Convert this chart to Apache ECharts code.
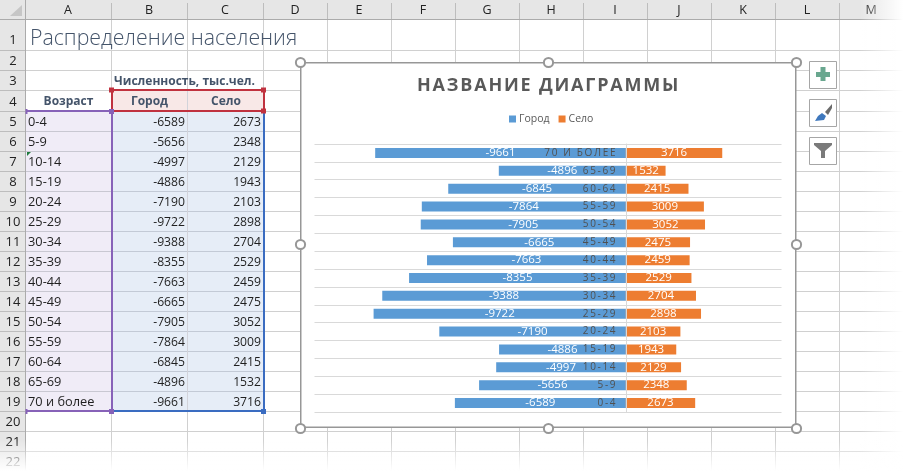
<!DOCTYPE html>
<html><head><meta charset="utf-8">
<style>html,body{margin:0;padding:0;background:#fff}#c{width:903px;height:471px}</style>
<script src="https://cdn.jsdelivr.net/npm/echarts@6/dist/echarts.min.js"></script>
</head><body><div id="c"></div>
<script>
const ages = ['0-4','5-9','10-14','15-19','20-24','25-29','30-34','35-39','40-44','45-49','50-54','55-59','60-64','65-69','70 и более'];
const gorod = [-6589,-5656,-4997,-4886,-7190,-9722,-9388,-8355,-7663,-6665,-7905,-7864,-6845,-4896,-9661];
const selo = [2673,2348,2129,1943,2103,2898,2704,2529,2459,2475,3052,3009,2415,1532,3716];
const colLetters = ['A','B','C','D','E','F','G','H','I','J','K','L','M'];
const colEdges = [25,111,187,263,327,391,455,519,583,647,711,775,839,903];
const sheetTitle = 'Распределение населения';
const groupHeader = 'Численность, тыс.чел.';
const headAge = 'Возраст', headCity = 'Город', headVillage = 'Село';
const chartTitle = 'НАЗВАНИЕ ДИАГРАММЫ';

const FONT = '"Open Sans", "Noto Sans", sans-serif';
const spaced = (s, sep) => s.split('').join(sep);
const rowBottom = n => n <= 3 ? [50,70,90][n-1] : 111 + 20*(n-4);
const els = [];
const rect = (x,y,w,h,fill,z) => els.push({type:'rect',silent:true,z:z,shape:{x,y,width:w,height:h},style:{fill}});
const text = (t,x,y,o) => els.push({type:'text',silent:true,z:o.z===undefined?-1:o.z,x,y,style:{text:t,fill:o.fill||'#1f1f1f',font:(o.weight||'normal')+' '+(o.size||12)+'px '+(o.font||FONT),textAlign:o.align||'left',textVerticalAlign:'middle'}});

rect(0,0,903,19,'#e6e6e6',-5);
rect(0,0,25,471,'#e6e6e6',-5);
for (const x of colEdges.slice(1,-1)) rect(x,19,1,452,'#d0d0d0',-4);
for (let n=1;n<=21;n++) rect(25,rowBottom(n),878,1,'#d0d0d0',-4);
rect(26,112,85,299,'#f0ecf7',-3);
rect(112,112,151,299,'#e6edf7',-3);
rect(112,91,151,20,'#f8e8e7',-3);
for (let n=5;n<=18;n++){ rect(26,rowBottom(n),85,1,'#c9c8d2',-3); rect(112,rowBottom(n),151,1,'#c3cad6',-3); }
rect(187,91,1,320,'#d2d3da',-3);
rect(0,19,903,1,'#ababab',-2);
rect(25,0,1,471,'#ababab',-2);
els.push({type:'polygon',silent:true,z:-2,shape:{points:[[22,5],[22,16],[10,16]]},style:{fill:'#c6c6c6'}});
colLetters.forEach((c,i)=>{
  if(i) rect(colEdges[i],3,1,16,'#bdbdbd',-2);
  text(c,(colEdges[i]+colEdges[i+1])/2,10,{align:'center',size:12.5,fill:'#222'});
});
for (let n=1;n<=22;n++){
  rect(0,rowBottom(n),25,1,'#bdbdbd',-2);
  text(String(n),13,(n===1?40:rowBottom(n)-8.5),{align:'center',size:13,fill:'#222'});
}
text(sheetTitle,30,38.5,{size:21.3,weight:'300',fill:'#44546a'});
text(groupHeader,114,81.5,{size:12,weight:'bold',fill:'#44546a'});
text(headAge,68.5,102,{size:12,weight:'bold',fill:'#44546a',align:'center'});
text(headCity,149.5,102,{size:12,weight:'bold',fill:'#44546a',align:'center'});
text(headVillage,226,102,{size:12,weight:'bold',fill:'#44546a',align:'center'});
ages.forEach((a,i)=>{
  const y = rowBottom(5+i)-8.5;
  text(a,28,y,{size:12.8});
  text(String(gorod[i]),185,y,{size:12.2,align:'right'});
  text(String(selo[i]),261,y,{size:12.2,align:'right'});
});
els.push({type:'polygon',silent:true,z:-1,shape:{points:[[27,152],[31,152],[27,156]]},style:{fill:'#1e7a3c'}});
const RED='#c0323f', PUR='#8762b8', BLU='#3a6cc1';
rect(112,89,152,2,RED,-1); rect(112,110,152,2,RED,-1); rect(111,89,2,23,RED,-1); rect(263,89,2,23,RED,-1);
rect(26,110,85,2,PUR,-1); rect(26,410,85,2,PUR,-1); rect(111,112,2,299,PUR,-1);
rect(113,410,151,2,BLU,-1); rect(263,112,2,299,BLU,-1);
[[111,90],[263,90],[263,111]].forEach(p=>rect(p[0]-2,p[1]-2.5,5,5,RED,-1));
[[111,111],[111,411]].forEach(p=>rect(p[0]-2,p[1]-2,5,5,PUR,-1));
rect(25.5,109,2,5,PUR,-1); rect(25.5,409,2,5,PUR,-1);
rect(261,409,5,5,BLU,-1);
rect(300,62,496,365,'#ffffff',-1);
const B='#979797';
rect(300,62,496,1.5,B,-1); rect(300,426.5,496,1.5,B,-1); rect(300,62,1.5,366,B,-1); rect(795,62,1.5,366,B,-1);
[[300,62],[548,62],[796,62],[300,244],[796,244],[300,428],[548,428],[796,428]].forEach(p=>
  els.push({type:'circle',silent:true,z:1,shape:{cx:p[0]+.5,cy:p[1]+.5,r:4.6},style:{fill:'#fff',stroke:'#979797',lineWidth:2}}));
[61,99,137].forEach(y=>els.push({type:'rect',silent:true,z:-1,shape:{x:809.5,y:y+.5,width:27,height:27},style:{fill:'#fff',stroke:'#a6a6a6',lineWidth:1}}));
rect(816,72,14,5,'#69a78f',1); rect(820.5,67,5,14,'#69a78f',1);
els.push({type:'polygon',silent:true,z:1,shape:{points:[[825,112],[832,104],[832,108],[828,115]]},style:{fill:'#6b6b6b'}});
els.push({type:'polygon',silent:true,z:1,shape:{points:[[815,121],[818,116],[822,113],[826,116],[824,120]]},style:{fill:'#3f78bd'}});
els.push({type:'polygon',silent:true,z:1,shape:{points:[[814,143],[832,143],[832,145],[825,151],[825,158],[821,158],[821,151],[814,145]]},style:{fill:'#7a7a7a'}});
els.push({type:'rect',silent:true,z:5,shape:{x:860,y:0,width:43,height:471},style:{fill:{type:'linear',x:0,y:0,x2:1,y2:0,colorStops:[{offset:0,color:'rgba(255,255,255,0)'},{offset:1,color:'rgba(255,255,255,1)'}]}}});
els.push({type:'rect',silent:true,z:5,shape:{x:0,y:440,width:903,height:31},style:{fill:{type:'linear',x:0,y:0,x2:0,y2:1,colorStops:[{offset:0,color:'rgba(255,255,255,0)'},{offset:1,color:'rgba(255,255,255,1)'}]}}});

const labelStyle = {show:true,position:'inside',color:'#fff',fontSize:11.5,fontFamily:FONT};
const chart = echarts.init(document.getElementById('c'),null,{renderer:'canvas'});
chart.setOption({
  animation:false,
  title:{text:spaced(chartTitle,'\u200A'),left:412,top:72,textStyle:{color:'#595959',fontSize:18,fontWeight:'bold',fontFamily:FONT}},
  legend:{left:504,top:108.5,itemWidth:7,itemHeight:7,itemGap:9,icon:'rect',textStyle:{color:'#595959',fontSize:10.5,fontFamily:FONT,padding:[0,0,0,-2]},data:['Город','Село']},
  grid:{left:314.5,top:144,width:467,height:268,containLabel:false},
  xAxis:{type:'value',min:-12000,max:6000,show:false},
  yAxis:{type:'category',data:ages,z:6,
    axisLine:{onZero:true,lineStyle:{color:'#d9d9d9',width:1}},
    axisTick:{show:false},
    splitLine:{show:true,lineStyle:{color:'#d9d9d9',width:1}},
    axisLabel:{color:'#505050',fontSize:10,margin:-301,fontFamily:FONT,interval:0,formatter:v=>spaced(v.toUpperCase(),'\u2009')}},
  series:[
    {name:'Город',type:'bar',stack:'s',barWidth:10,data:gorod,itemStyle:{color:'#5b9bd5'},label:labelStyle},
    {name:'Село',type:'bar',stack:'s',barWidth:10,data:selo,itemStyle:{color:'#ed7d31'},label:labelStyle}
  ],
  graphic:{elements:els}
});
</script></body></html>
